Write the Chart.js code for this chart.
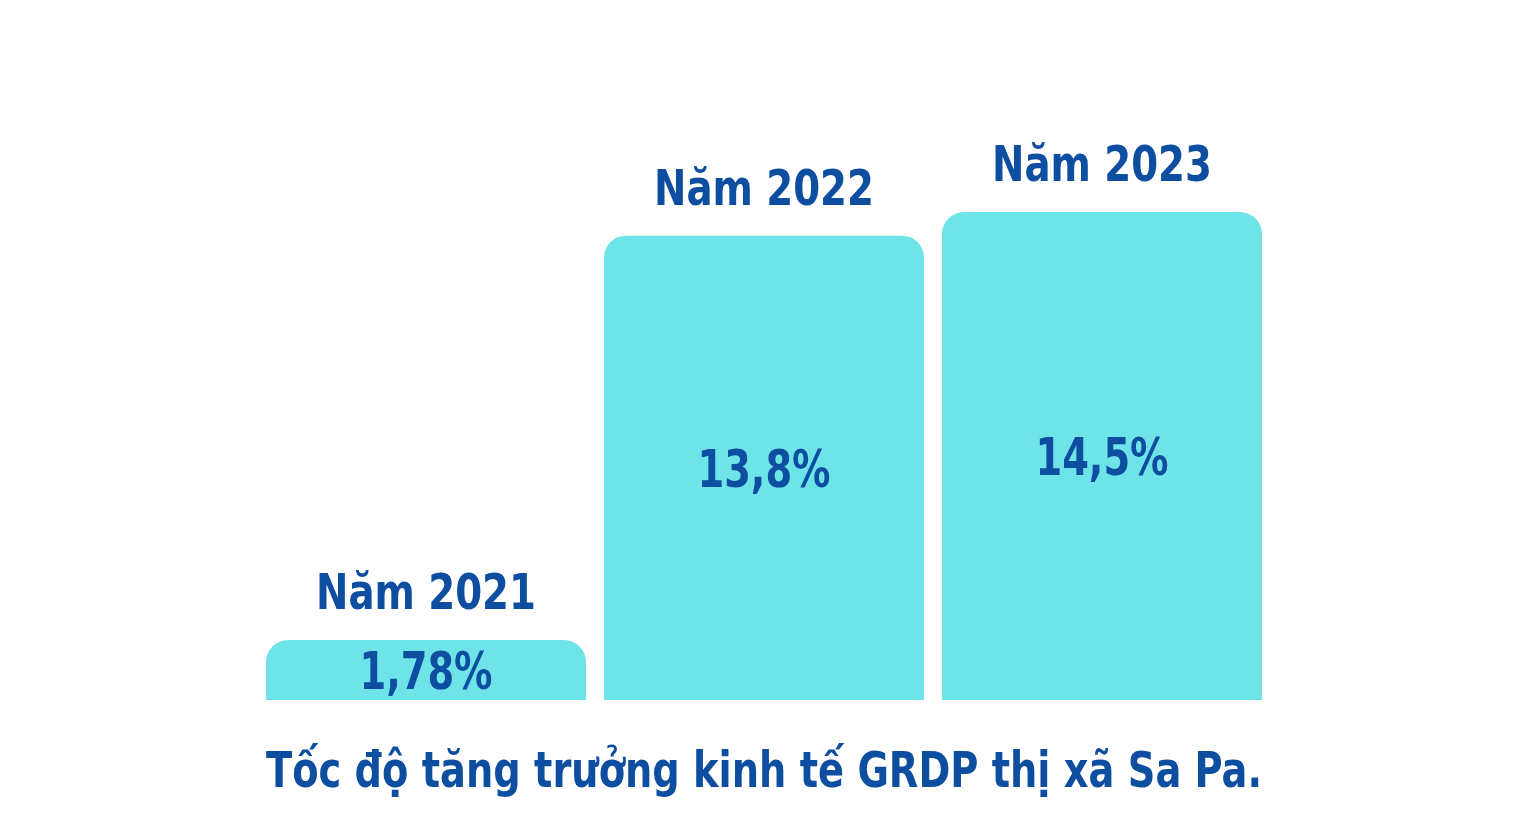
<!DOCTYPE html>
<html lang="vi">
<head>
    <meta charset="UTF-8">
    <title>GRDP Sa Pa</title>
    <script src="https://cdn.jsdelivr.net/npm/chart.js@4.4.1/dist/chart.umd.min.js"></script>
    <style>
        html, body { margin: 0; padding: 0; background: #fff; }
        #wrap { width: 1528px; height: 830px; }
    </style>
</head>
<body>
<div id="wrap">
    <canvas id="myChart"></canvas>
</div>
<script>
    // data
    var years = ['Năm 2021', 'Năm 2022', 'Năm 2023'];
    var growth = [1.78, 13.8, 14.5];
    var valueLabels = ['1,78%', '13,8%', '14,5%'];
    var chartTitle = 'Tốc độ tăng trưởng kinh tế GRDP thị xã Sa Pa.';

    var blue = '#0d4ea0';
    var cyan = '#6ee4e8';
    var fontFam = '"Liberation Sans Narrow", "DejaVu Sans Condensed", "Roboto", sans-serif';

    // squeezed text, the original uses a condensed face
    function drawNarrow(ctx, txt, x, y, sx) {
        ctx.save();
        ctx.translate(x, y);
        ctx.scale(sx, 1);
        ctx.fillText(txt, 0, 0);
        ctx.restore();
    }

    // year above bar, value inside bar, caption under the bars
    var barText = {
        id: 'barText',
        afterDatasetsDraw: function (chart) {
            var ctx = chart.ctx;
            var bars = chart.getDatasetMeta(0).data;
            var area = chart.chartArea;
            ctx.save();
            ctx.fillStyle = blue;
            ctx.textAlign = 'center';
            ctx.textBaseline = 'alphabetic';
            bars.forEach(function (bar, i) {
                ctx.font = 'bold 50px ' + fontFam;
                drawNarrow(ctx, years[i], bar.x, bar.y - 31, 0.86);
                ctx.font = 'bold 52px ' + fontFam;
                var mid = (bar.y + bar.base) / 2;
                drawNarrow(ctx, valueLabels[i], bar.x, Math.min(mid + 19, bar.base - 4), 0.82);
            });
            ctx.font = 'bold 50px ' + fontFam;
            ctx.fillText(chartTitle, chart.width / 2, area.bottom + 87, 996);
            ctx.restore();
        }
    };

    var ctx = document.querySelector('#myChart').getContext('2d');
    new Chart(ctx, {
        type: 'bar',
        data: {
            labels: years,
            datasets: [{
                data: growth,
                backgroundColor: cyan,
                borderWidth: 0,
                borderSkipped: false,
                borderRadius: {topLeft: 22, topRight: 22, bottomLeft: 0, bottomRight: 0},
                barPercentage: 0.947,
                categoryPercentage: 1
            }]
        },
        options: {
            responsive: true,
            maintainAspectRatio: false,
            animation: false,
            layout: {padding: {left: 257, right: 257, top: 27, bottom: 130}},
            scales: {
                x: {display: false},
                y: {display: false, min: 0, max: 20}
            },
            plugins: {
                legend: {display: false},
                tooltip: {enabled: false},
                title: {display: false}
            }
        },
        plugins: [barText]
    });
</script>
</body>
</html>
